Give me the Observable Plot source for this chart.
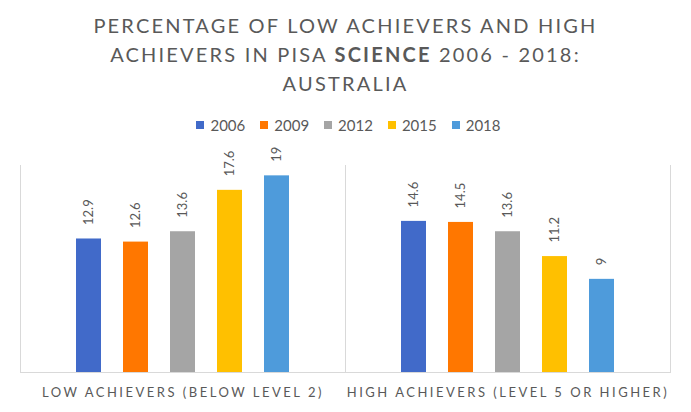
<!DOCTYPE html>
<html>
<head>
<meta charset="utf-8">
<script src="https://cdn.jsdelivr.net/npm/d3@7"></script>
<script src="https://cdn.jsdelivr.net/npm/@observablehq/plot@0.6"></script>
<style>
  html, body { margin: 0; padding: 0; background: #fff; }
  body { width: 691px; font-family: Lato, "Liberation Sans", sans-serif; color: #595959; }
  #title { box-sizing: border-box; height: 110px; padding-top: 11px; text-align: center;
           font-size: 20px; line-height: 29px; letter-spacing: 2.2px; color: #595959; }
  #title b { font-weight: 700; }
  #legend { height: 30px; display: flex; justify-content: center; align-items: center;
            font-size: 15px; color: #595959; padding-left: 6px; }
  .item { display: flex; align-items: center; margin: 0 7.5px; }
  .sw { width: 8px; height: 8px; margin-right: 6px; }
  #chart svg { display: block; }
  #chart g[aria-label="fx-axis tick label"] { font-size: 13px; letter-spacing: 2.5px; }
</style>
</head>
<body>
<div id="title">PERCENTAGE OF LOW ACHIEVERS AND HIGH<br>ACHIEVERS IN PISA <b>SCIENCE</b> 2006 - 2018:<br>AUSTRALIA</div>
<div id="legend"></div>
<div id="chart"></div>
<script>
const categories = ["LOW ACHIEVERS (BELOW LEVEL 2)", "HIGH ACHIEVERS (LEVEL 5 OR HIGHER)"];
const years = ["2006", "2009", "2012", "2015", "2018"];
const lowAchievers = [12.9, 12.6, 13.6, 17.6, 19];
const highAchievers = [14.6, 14.5, 13.6, 11.2, 9];
const colors = ["#416AC9", "#FF7700", "#A5A5A5", "#FFC000", "#4E9BDB"];

const series = [lowAchievers, highAchievers];
const data = categories.flatMap((cat, i) => years.map((year, j) => ({cat, year, value: series[i][j]})));

const legend = document.getElementById("legend");
years.forEach((y, i) => {
  const item = document.createElement("div");
  item.className = "item";
  item.innerHTML = `<span class="sw" style="background:${colors[i]}"></span><span>${y}</span>`;
  legend.appendChild(item);
});

const chart = Plot.plot({
  width: 691,
  height: 272,
  marginLeft: 19,
  marginRight: 21,
  marginTop: 25,
  marginBottom: 40,
  style: { fontFamily: "Lato, 'Liberation Sans', sans-serif", color: "#595959" },
  fx: { domain: categories, padding: 0, label: null, axis: "bottom", tickSize: 0, tickPadding: 15 },
  x: { domain: years, paddingInner: 0.474, paddingOuter: 1.158, axis: null },
  y: { domain: [0, 20], axis: null },
  color: { domain: years, range: colors },
  marks: [
    Plot.frame({ anchor: "left", stroke: "#D9D9D9" }),
    Plot.frame({ anchor: "right", stroke: "#D9D9D9" }),
    Plot.frame({ anchor: "bottom", stroke: "#D9D9D9" }),
    Plot.barY(data, { fx: "cat", x: "year", y: "value", fill: "year" }),
    Plot.text(data, { fx: "cat", x: "year", y: "value", text: d => String(d.value),
      rotate: -90, textAnchor: "start", dy: -14, fontSize: 13, fill: "#595959" })
  ]
});
document.getElementById("chart").appendChild(chart);
</script>
</body>
</html>
